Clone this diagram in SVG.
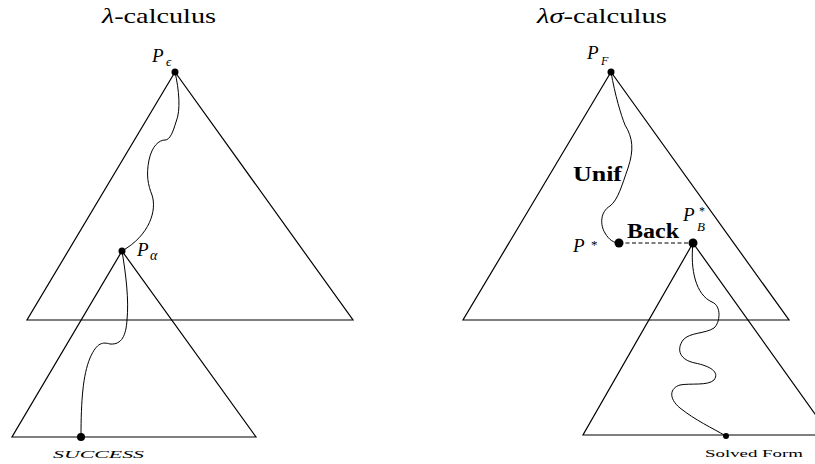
<svg xmlns="http://www.w3.org/2000/svg" width="815" height="464" viewBox="0 0 815 464">
<style>
.tri{fill:none;stroke:#000;stroke-width:1.2;stroke-linejoin:miter}
.cur{fill:none;stroke:#000;stroke-width:1}
.dot{fill:#000}
.t{font-family:"Liberation Serif","DejaVu Serif",serif;fill:#000}
.it{font-style:italic}
.up{font-style:normal}
.b{font-weight:bold}
</style>
<rect width="815" height="464" fill="#fff"/>
<g id="title-left"><text class="t" x="102" y="23" font-size="21" textLength="114" lengthAdjust="spacingAndGlyphs"><tspan class="it">λ</tspan>-calculus</text></g>
<g id="title-right"><text class="t" x="537" y="23" font-size="21" textLength="130" lengthAdjust="spacingAndGlyphs"><tspan class="it">λσ</tspan>-calculus</text></g>

<g id="tri-left-big"><polygon class="tri" points="175,72 27,320 353,320"/></g>
<g id="tri-left-small"><polygon class="tri" points="122,251 12,437 256,437"/></g>
<g id="tri-right-big"><polygon class="tri" points="611,72 463,320 789,320"/></g>
<g id="tri-right-small"><polygon class="tri" points="693,243 583,435 830,435"/></g>

<g id="connectors">
<path class="cur" d="M175,72 C179,90 181,110 176,122 C173,132 170,140 165,140 C159,140 152,146 149,160 C146,175 148,185 152,195 C157,210 150,235 122,251"/>
<path class="cur" d="M122,251 C126,275 129,300 127,320 C126,335 122,345 110,344 C103,342 97,342 90,358 C83,375 81,400 81,437"/>
<path class="cur" d="M611,72 C615,95 621,115 625,125 C633,138 634,150 628,168 C622,185 618,200 610,206 C600,212 600,225 605,233 C609,240 614,243 619,243"/>
<path class="cur" d="M693,243 C690,270 696,295 712,302 C722,306 720,323 714,328 C705,334 690,332 683,340 C676,350 680,360 695,363 C710,366 720,372 714,380 C708,386 690,383 680,385 C670,388 668,398 680,408 C695,420 712,428 726,436"/>
<line class="cur" x1="619" y1="243" x2="693" y2="243" stroke-dasharray="4,2.5"/>
</g>

<g id="P-eps">
<circle class="dot" cx="175" cy="72" r="3.5"/>
<text class="t it" x="152" y="62" font-size="19">P<tspan x="166" y="66" font-size="13">ϵ</tspan></text>
</g>
<g id="P-alpha">
<circle class="dot" cx="122" cy="251" r="3.5"/>
<text class="t it" x="137" y="256" font-size="19">P<tspan x="150" y="260" font-size="14">α</tspan></text>
</g>
<g id="success">
<circle class="dot" cx="81" cy="437" r="4"/>
<text class="t it" x="53" y="458" font-size="11" textLength="91" lengthAdjust="spacingAndGlyphs">SUCCESS</text>
</g>
<g id="P-F">
<circle class="dot" cx="611" cy="72" r="3.5"/>
<text class="t it" x="587" y="59" font-size="19">P<tspan x="601" y="65" font-size="12">F</tspan></text>
</g>
<g id="unif"><text class="t b" x="573" y="181" font-size="20" textLength="49" lengthAdjust="spacingAndGlyphs">Unif</text></g>
<g id="P-star">
<circle class="dot" cx="619" cy="243" r="4.5"/>
<text class="t it" x="573" y="252" font-size="19">P<tspan class="up" x="591" y="249" font-size="13">*</tspan></text>
</g>
<g id="back"><text class="t b" x="627" y="238" font-size="20" textLength="52" lengthAdjust="spacingAndGlyphs">Back</text></g>
<g id="P-B-star">
<circle class="dot" cx="693" cy="243" r="4.5"/>
<text class="t it" x="683" y="221" font-size="19">P<tspan class="up" x="699" y="215" font-size="12">*</tspan><tspan x="697" y="231" font-size="13">B</tspan></text>
</g>
<g id="solved">
<circle class="dot" cx="726" cy="436" r="3"/>
<text class="t" x="705" y="457" font-size="11" textLength="98" lengthAdjust="spacingAndGlyphs">Solved Form</text>
</g>
</svg>
